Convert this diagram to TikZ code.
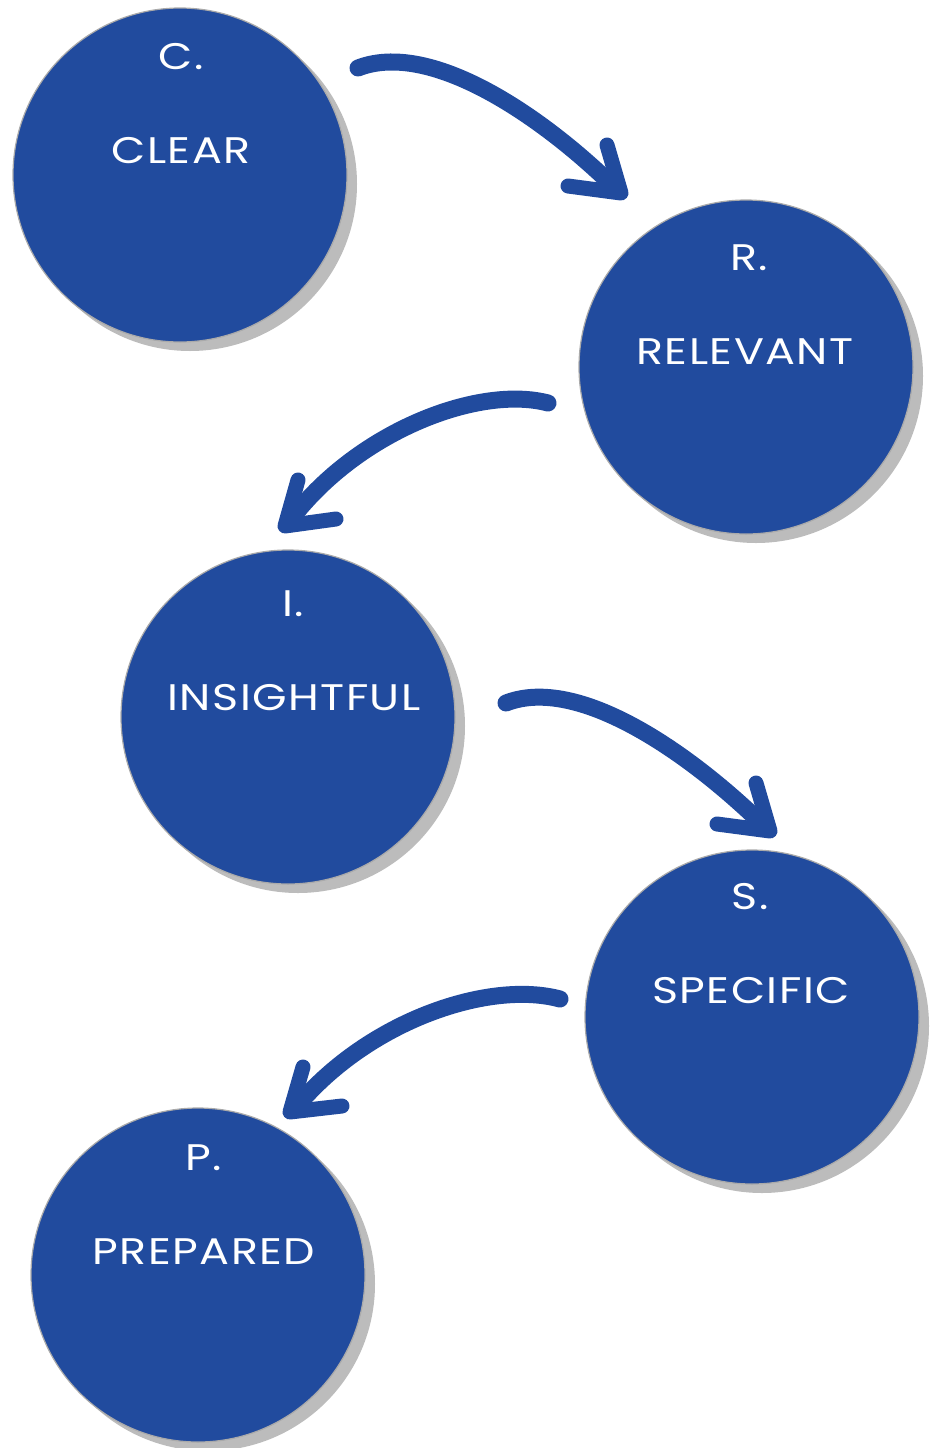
\documentclass[tikz,border=0pt]{standalone}
\usepackage{fontspec}
\setmainfont{Poppins}[FakeStretch=1.2, LetterSpace=4]
\usetikzlibrary{shadows}
\definecolor{cblue}{RGB}{33,75,158}
\definecolor{cshadow}{RGB}{188,188,188}
\definecolor{cedge}{RGB}{170,170,170}
\tikzset{
  circ/.style={circle, fill=cblue, draw=cedge, line width=1.2pt, minimum size=334pt, inner sep=0pt,
    general shadow={fill=cshadow, shadow xshift=10pt, shadow yshift=-9pt}},
  lbl/.style={text=white, font=\fontsize{37}{40}\selectfont, inner sep=0pt},
  brush/.style={draw=cblue, line width=17pt, line cap=round},
  brushhead/.style={draw=cblue, line width=15pt, line cap=round, line join=round}
}
\begin{document}
\begin{tikzpicture}[x=1pt, y=-1pt]
\useasboundingbox (0,0) rectangle (931,1448);
% circles
\node[circ] (clear) at (180,175) {};
\node[circ] (relevant) at (746,367) {};
\node[circ] (insight) at (288,717) {};
\node[circ] (specific) at (752,1017) {};
\node[circ] (prepared) at (198,1275) {};
% labels
\node[lbl] (clearA) at (181,57) {C.};
\node[lbl] (clearB) at (181,151) {CLEAR};
\node[lbl] (relA) at (749,258) {R.};
\node[lbl] (relB) at (745,352) {RELEVANT};
\node[lbl] (insA) at (293,604) {I.};
\node[lbl] (insB) at (294,698) {INSIGHTFUL};
\node[lbl] (speA) at (750,897) {S.};
\node[lbl] (speB) at (751,991) {SPECIFIC};
\node[lbl] (preA) at (204,1158) {P.};
\node[lbl] (preB) at (204,1252) {PREPARED};
% arrow 1
\coordinate (a1s) at (358,68);
\coordinate (a1e) at (612,185);
\coordinate (a1t) at (621,193);
\coordinate (a1u) at (607,145);
\coordinate (a1l) at (568,186);
\draw[brush] (a1s) .. controls (430,40) and (540,115) .. (a1e);
\draw[brushhead] (a1u) -- (a1t) -- (a1l);
% arrow 2
\coordinate (a2s) at (548,403);
\coordinate (a2e) at (292,518);
\coordinate (a2t) at (285,526);
\coordinate (a2u) at (298,480);
\coordinate (a2r) at (336,519);
\draw[brush] (a2s) .. controls (480,385) and (360,430) .. (a2e);
\draw[brushhead] (a2u) -- (a2t) -- (a2r);
% arrow 3
\coordinate (a3s) at (506,703);
\coordinate (a3e) at (761,823);
\coordinate (a3t) at (770,831);
\coordinate (a3u) at (756,783);
\coordinate (a3l) at (717,824);
\draw[brush] (a3s) .. controls (578,675) and (689,753) .. (a3e);
\draw[brushhead] (a3u) -- (a3t) -- (a3l);
% arrow 4
\coordinate (a4s) at (560,999);
\coordinate (a4e) at (298,1105);
\coordinate (a4t) at (290,1112);
\coordinate (a4u) at (303,1067);
\coordinate (a4r) at (342,1106);
\draw[brush] (a4s) .. controls (490,980) and (370,1020) .. (a4e);
\draw[brushhead] (a4u) -- (a4t) -- (a4r);
\end{tikzpicture}
\end{document}
